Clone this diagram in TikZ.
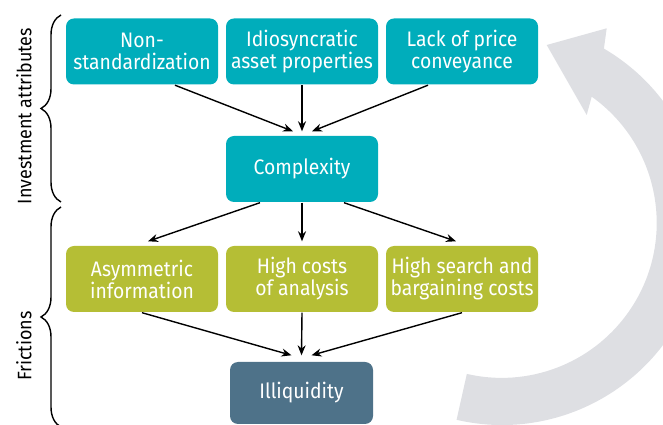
\documentclass[tikz,border=0pt]{standalone}
\usepackage{fontspec}
\setmainfont{Fira Sans}[FakeStretch=0.92]
\usetikzlibrary{arrows.meta,decorations.pathreplacing}

\definecolor{attrteal}{RGB}{0,173,187}
\definecolor{fricolive}{RGB}{181,190,53}
\definecolor{illiqslate}{RGB}{78,114,137}
\definecolor{cyclegray}{RGB}{222,223,227}

\begin{document}
\begin{tikzpicture}[%
        x = 1pt,
        y = 1pt,
        line width = 1.4pt,
        > = {Stealth[length = 10pt, width = 8pt]},
        box/.style = {%
            rounded corners = 8pt,
            minimum width = 152pt,
            minimum height = 66pt,
            align = center,
            text = white,
            inner sep = 2pt,
            font = \fontsize{21}{22}\selectfont
        },
        attrbox/.style = {box, fill = attrteal},
        fricbox/.style = {box, fill = fricolive},
        outbox/.style = {%
            box,
            fill = illiqslate,
            minimum width = 143pt,
            minimum height = 62pt
        },
        flow/.style = {draw = black, ->},
        bracket/.style = {%
            draw = black,
            decorate,
            decoration = {brace, amplitude = 20pt}
        },
        sidelabel/.style = {%
            rotate = 90,
            font = \fontsize{19.5}{22}\selectfont
        }
    ]
        \useasboundingbox (0, 0) rectangle (663, 425);
        \clip (0, 0) rectangle (663, 425);
        \coordinate (ctr) at (502, 202);
        \fill[cyclegray] (ctr) ++(-103:202)
            arc[start angle = -103, end angle = 59.7, radius = 202]
            -- (606.7, 396.7) -- (546.7, 380) -- (586.7, 310) -- (591.7, 328.3)
            arc[start angle = 54.5, end angle = -103, radius = 155] -- cycle;
        \node[attrbox] (nonstd) at (142, 373.5) {Non-\\standardization};
        \node[attrbox] (idio) at (302, 373.5) {Idiosyncratic\\asset properties};
        \node[attrbox] (price) at (462, 373.5) {Lack of price\\conveyance};
        \node[attrbox] (cplx) at (302, 256) {Complexity};
        \node[fricbox] (asym) at (142, 146) {Asymmetric\\information};
        \node[fricbox] (cost) at (302, 146) {High costs\\of analysis};
        \node[fricbox] (search) at (462, 146) {High search and\\bargaining costs};
        \node[outbox] (illiq) at (301.5, 32) {Illiquidity};
        \draw[flow] ([xshift = 33pt]nonstd.south) to ([xshift = -9pt, yshift = 4pt]cplx.north);
        \draw[flow] (idio.south) to ([yshift = 4pt]cplx.north);
        \draw[flow] ([xshift = -34pt]price.south) to ([xshift = 10pt, yshift = 4pt]cplx.north);
        \draw[flow] ([xshift = -42pt]cplx.south) to ([xshift = 6pt, yshift = 4pt]asym.north);
        \draw[flow] (cplx.south) to ([yshift = 4pt]cost.north);
        \draw[flow] ([xshift = 42pt]cplx.south) to ([xshift = -6pt, yshift = 4pt]search.north);
        \draw[flow] (asym.south) to ([xshift = -10pt, yshift = 6pt]illiq.north);
        \draw[flow] (cost.south) to ([yshift = 6pt]illiq.north);
        \draw[flow] (search.south) to ([xshift = 10pt, yshift = 6pt]illiq.north);
        \draw[bracket] (61, 223) to (61, 410);
        \draw[bracket] (61, -2) to (61, 218);
        \node[sidelabel] (invlabel) at (24, 309) {Investment attributes};
        \node[sidelabel] (friclabel) at (24, 79) {Frictions};
    \end{tikzpicture}
\end{document}
